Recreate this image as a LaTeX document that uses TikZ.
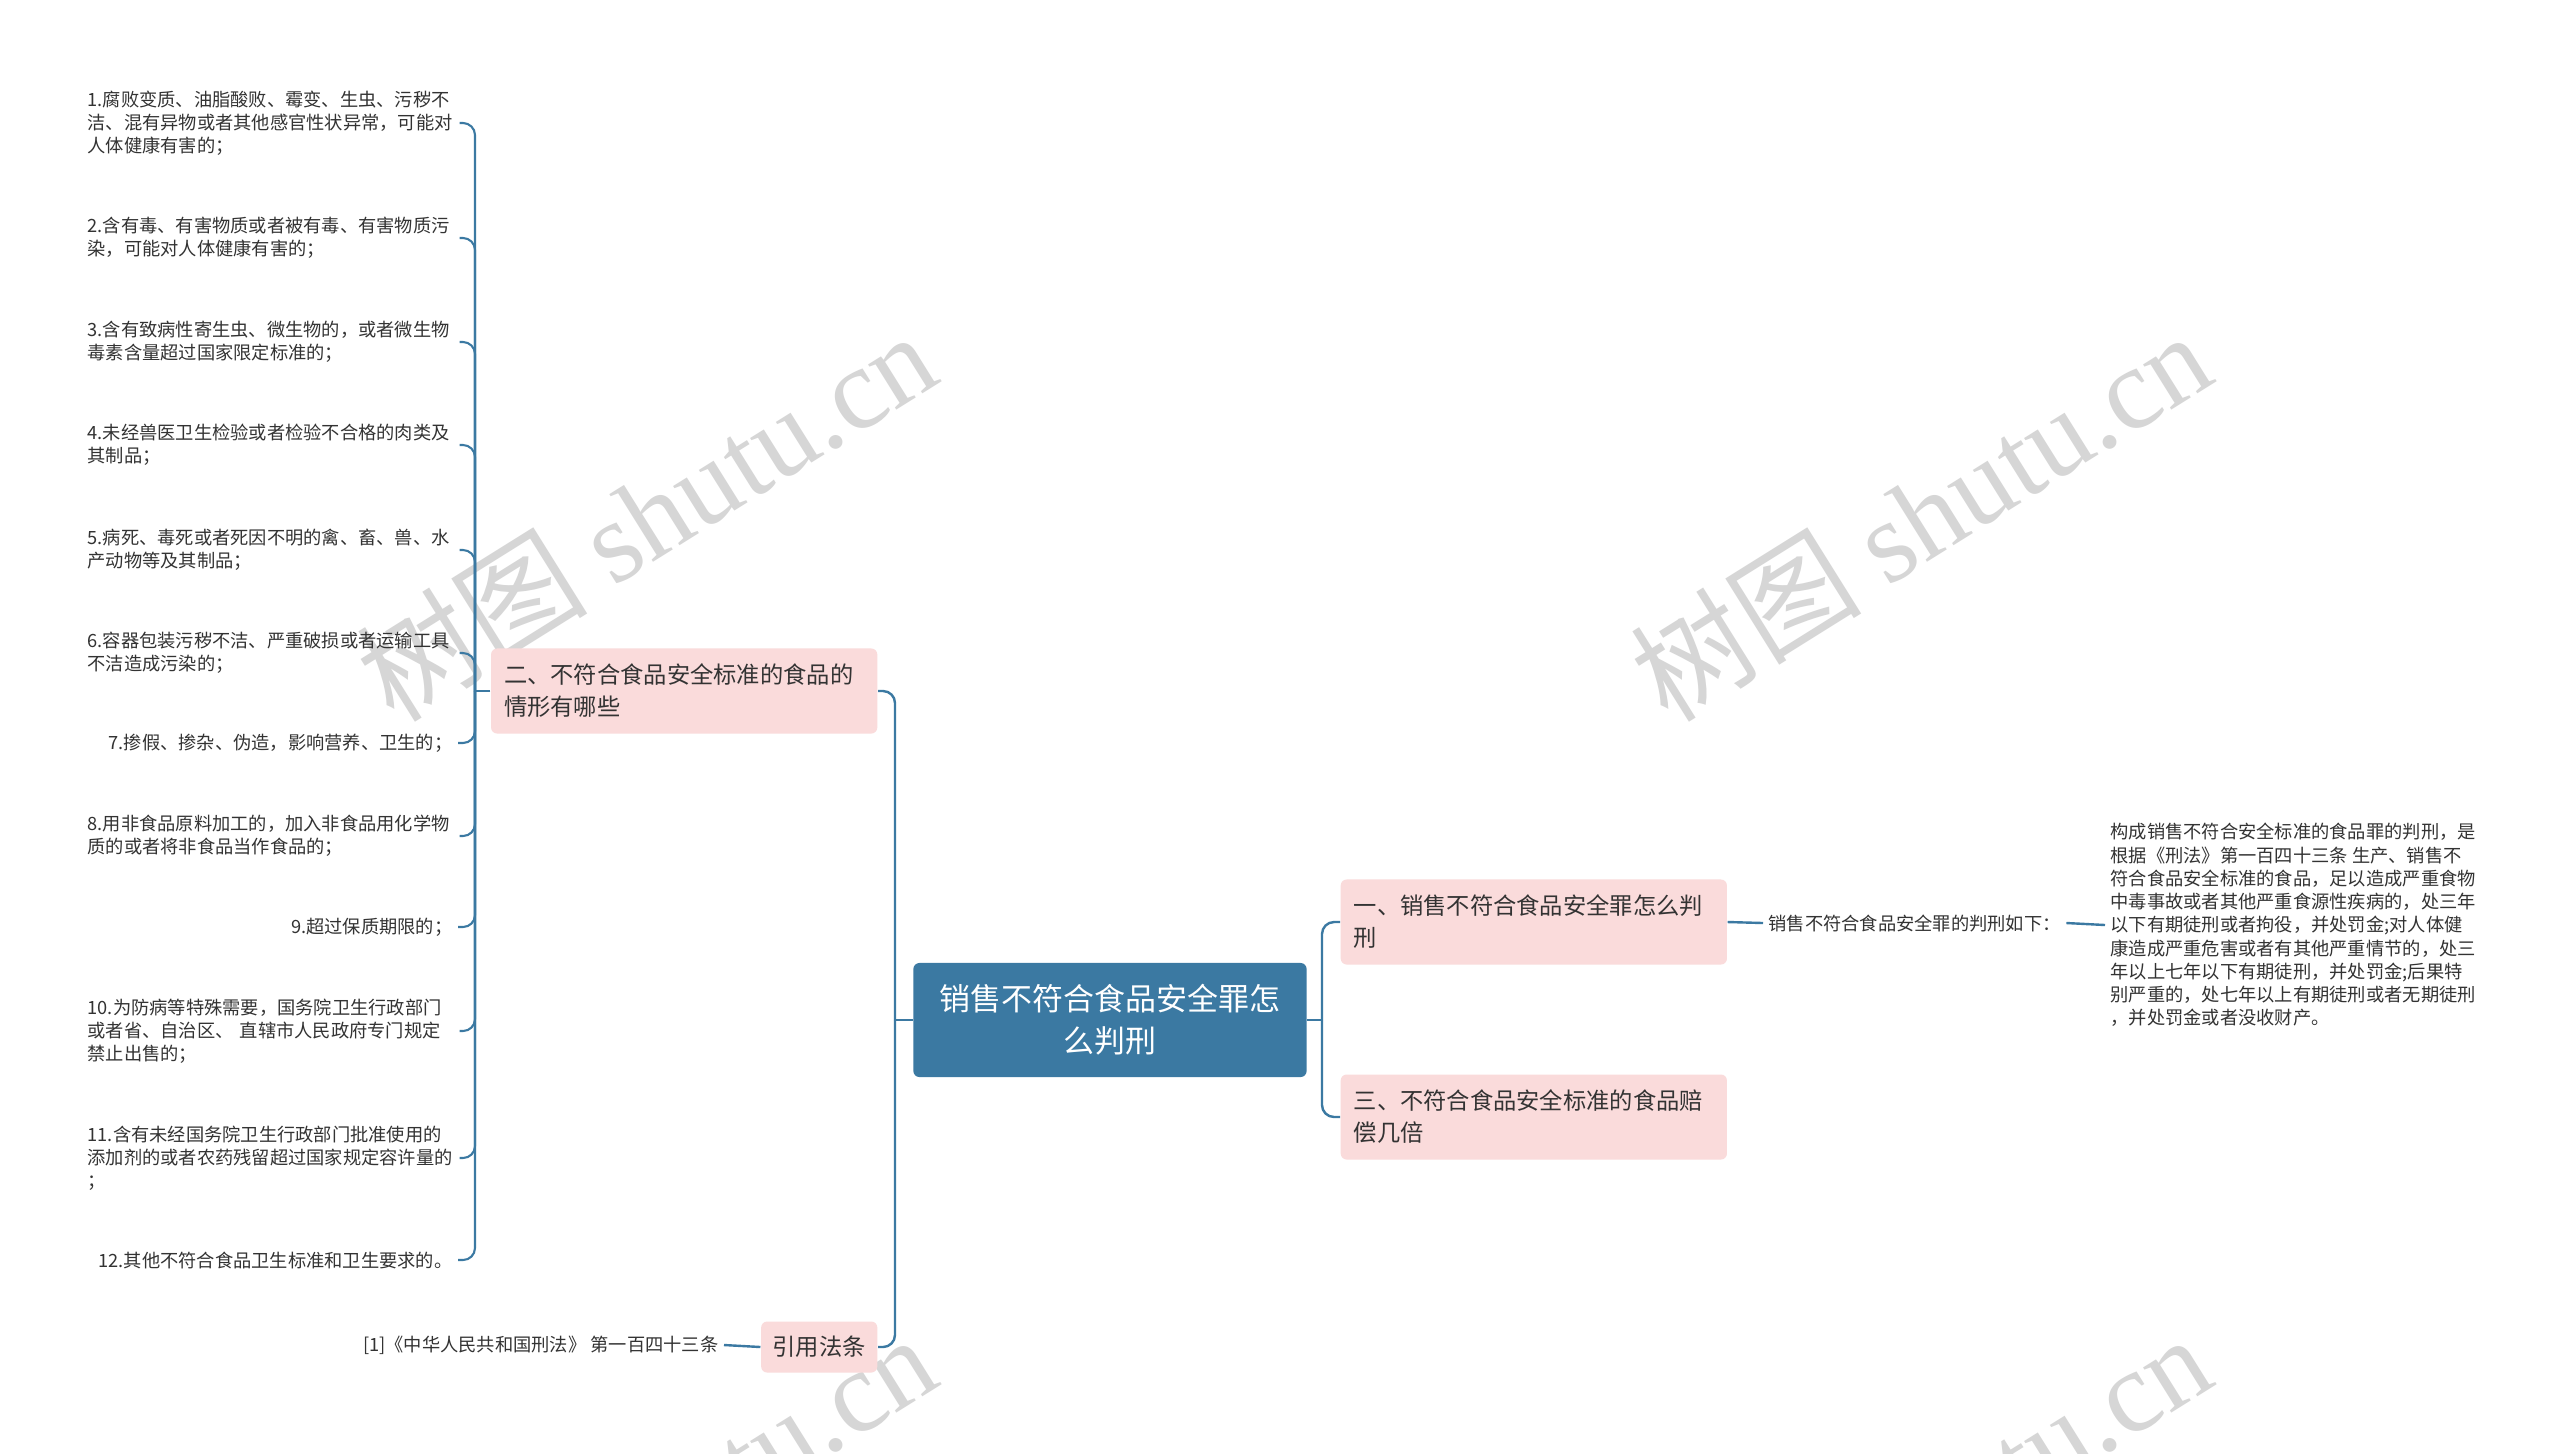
\documentclass[tikz,border=0pt]{standalone}
\usepackage{fontspec}
\setmainfont{Noto Sans CJK SC}
\newfontfamily\wmlatin{Liberation Serif}
\newcommand{\LINEPT}{0.024cm}
\newcommand{\LEAFPT}{0.021cm}
\definecolor{myblue}{HTML}{3B79A2}
\definecolor{mypink}{HTML}{FADBDB}
\definecolor{mytext}{HTML}{333333}
\definecolor{mygray}{HTML}{D6D6D6}
\tikzset{
	rootbox/.style={fill=myblue, rounded corners=0.06cm, text=white, align=center, minimum width=3.93cm, minimum height=1.14cm, inner sep=0pt, font=\fontsize{8.8pt}{11.9pt}\selectfont},
	boxbase/.style={fill=mypink, rounded corners=0.06cm, text=mytext, align=left, inner ysep=0pt, font=\fontsize{6.62pt}{9.1pt}\selectfont},
	topicbox/.style={boxbase, text width=3.6cm, inner xsep=0.13cm, minimum height=0.85cm},
	citebox/.style={boxbase, inner xsep=0.115cm, minimum height=0.51cm},
	leaftext/.style={text=mytext, align=left, inner xsep=0.05cm, inner ysep=0pt, font=\fontsize{5.19pt}{6.6pt}\selectfont},
	itembox/.style={leaftext, text width=3.66cm},
	link/.style={draw=myblue, line width=\LINEPT, rounded corners=0.12cm},
	leaflink/.style={draw=myblue, line width=\LEAFPT, rounded corners=0.12cm},
	wmark/.style={text=mygray, rotate=32, inner sep=0pt, font=\fontsize{33pt}{33pt}\selectfont},
}
\begin{document}
\begin{tikzpicture}[x=0.01cm, y=-0.01cm]

		\fill[white] (0,0) rectangle (2560,1453);
		\useasboundingbox (0,0) rectangle (2560,1453);
		
		%% watermarks
		\node[wmark] (wm1) at (646,515) {树图 {\wmlatin shutu.cn}};
		\node[wmark] (wm2) at (1920,515) {树图 {\wmlatin shutu.cn}};
		\node[wmark] (wm3) at (646,1518) {树图 {\wmlatin shutu.cn}};
		\node[wmark] (wm4) at (1920,1518) {树图 {\wmlatin shutu.cn}};
		
		%% main topics
		\node[rootbox] (root) at (1110,1020) {销售不符合食品安全罪怎\\么判刑};
		\node[topicbox, anchor=east] (q2) at (878,691) {二、不符合食品安全标准的食品的\\情形有哪些};
		\node[citebox, anchor=east] (cite) at (878,1347) {引用法条};
		\node[topicbox, anchor=west] (q1) at (1340,922) {一、销售不符合食品安全罪怎么判\\刑};
		\node[topicbox, anchor=west] (q3) at (1340,1117) {三、不符合食品安全标准的食品赔\\偿几倍};
		
		%% right leaves
		\node[leaftext, anchor=west] (judge) at (1763,923) {销售不符合食品安全罪的判刑如下：};
		\node[leaftext, anchor=west] (detail) at (2105,925) {构成销售不符合安全标准的食品罪的判刑，是\\根据《刑法》第一百四十三条 生产、销售不\\符合食品安全标准的食品，足以造成严重食物\\中毒事故或者其他严重食源性疾病的，处三年\\以下有期徒刑或者拘役，并处罚金;对人体健\\康造成严重危害或者有其他严重情节的，处三\\年以上七年以下有期徒刑，并处罚金;后果特\\别严重的，处七年以上有期徒刑或者无期徒刑\\，并处罚金或者没收财产。};
		\node[leaftext, anchor=east] (ref) at (724,1345) {[1]《中华人民共和国刑法》 第一百四十三条};
		
		%% left leaves
		\node[itembox, anchor=west] (i1) at (82,123) {1.腐败变质、油脂酸败、霉变、生虫、污秽不\\洁、混有异物或者其他感官性状异常，可能对\\人体健康有害的；};
		\node[itembox, anchor=west] (i2) at (82,238) {2.含有毒、有害物质或者被有毒、有害物质污\\染，可能对人体健康有害的；};
		\node[itembox, anchor=west] (i3) at (82,342) {3.含有致病性寄生虫、微生物的，或者微生物\\毒素含量超过国家限定标准的；};
		\node[itembox, anchor=west] (i4) at (82,445) {4.未经兽医卫生检验或者检验不合格的肉类及\\其制品；};
		\node[itembox, anchor=west] (i5) at (82,550) {5.病死、毒死或者死因不明的禽、畜、兽、水\\产动物等及其制品；};
		\node[itembox, anchor=west] (i6) at (82,653) {6.容器包装污秽不洁、严重破损或者运输工具\\不洁造成污染的；};
		\node[leaftext, anchor=east] (i7) at (458,743) {7.掺假、掺杂、伪造，影响营养、卫生的；};
		\node[itembox, anchor=west] (i8) at (82,836) {8.用非食品原料加工的，加入非食品用化学物\\质的或者将非食品当作食品的；};
		\node[leaftext, anchor=east] (i9) at (458,927) {9.超过保质期限的；};
		\node[itembox, anchor=west] (i10) at (82,1031) {10.为防病等特殊需要，国务院卫生行政部门\\或者省、自治区、 直辖市人民政府专门规定\\禁止出售的；};
		\node[itembox, anchor=west] (i11) at (82,1158) {11.含有未经国务院卫生行政部门批准使用的\\添加剂的或者农药残留超过国家规定容许量的\\；};
		\node[leaftext, anchor=east] (i12) at (458,1260) {12.其他不符合食品卫生标准和卫生要求的。};
		
		%% connectors
		\coordinate (s0) at (895,1020);
		\coordinate (s1) at (1322,1020);
		\coordinate (s2) at (475,691);
		
		\draw[link] (root.west) -- (s0);
		\draw[link] (s0) |- (q2.east);
		\draw[link] (s0) |- (cite.east);
		\draw[link] (root.east) -- (s1);
		\draw[link] (s1) |- (q1.west);
		\draw[link] (s1) |- (q3.west);
		\draw[link] (q1.east) -- (judge.west);
		\draw[link] (judge.east) -- (detail.west);
		\draw[link] (cite.west) -- (ref.east);
		\draw[link] (q2.west) -- (s2);
		\foreach \i in {1,...,12}
			\draw[leaflink] (s2) |- (i\i.east);

\end{tikzpicture}
\end{document}
